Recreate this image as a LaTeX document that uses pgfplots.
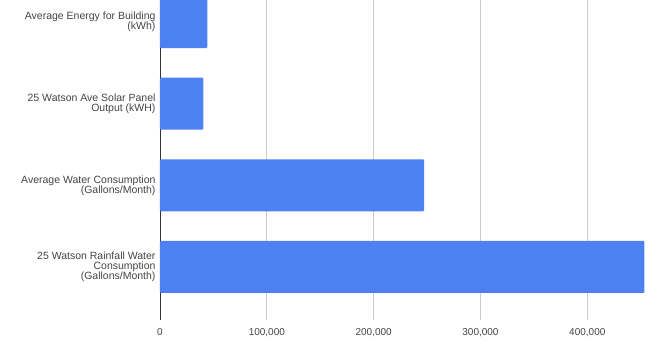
\documentclass[border=0pt]{standalone}
\usepackage{pgfplots}
\pgfplotsset{compat=1.18}
\usepackage{fontspec}
\setmainfont{Liberation Sans}
\definecolor{barblue}{RGB}{77,128,240}
\definecolor{gridgray}{RGB}{204,204,204}
\definecolor{txtgray}{RGB}{68,68,68}
\begin{document}
\begin{tikzpicture}
\begin{axis}[
  at={(0,0)}, anchor=south west,
  scale only axis, width=485pt, height=320pt,
  xbar, bar width=52pt,
  xmin=0, xmax=454000,
  ymin=-0.65, ymax=3.27,
  ytick={0,1,2,3},
  yticklabels={{25 Watson Rainfall Water\\Consumption\\(Gallons/Month)},{Average Water Consumption\\(Gallons/Month)},{25 Watson Ave Solar Panel\\Output (kWH)},{Average Energy for Building\\(kWh)}},
  yticklabel style={align=right, font=\fontsize{10.5}{10}\selectfont, text=txtgray, xshift=-1pt},
  xtick={0,100000,200000,300000,400000},
  scaled x ticks=false,
  xticklabel style={font=\fontsize{10}{10}\selectfont, text=txtgray, /pgf/number format/.cd, fixed, 1000 sep={,}, assume math mode=true},
  xticklabel shift=5pt,
  xmajorgrids, grid style={gridgray, line width=0.8pt},
  axis lines*=left,
  x axis line style={draw=none},
  y axis line style={draw=black!80, line width=0.8pt},
  major tick length=0pt,
  tick style={draw=none},
  axis on top=false,
]
\addplot[fill=barblue, draw=none, rounded corners=1pt] coordinates {
  (453500,0)
  (247200,1)
  (40500,2)
  (44300,3)
};
\coordinate (sw) at (rel axis cs:0,0);
\coordinate (ne) at (rel axis cs:1,1);
\end{axis}
\pgfresetboundingbox
\path ([xshift=-160pt,yshift=-33pt]sw) rectangle ([xshift=13pt]ne);
\end{tikzpicture}
\end{document}
